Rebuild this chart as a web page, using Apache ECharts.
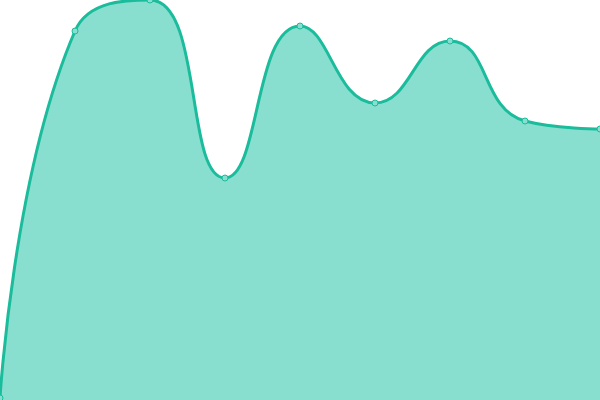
<!DOCTYPE html>
<html>
<head>
<meta charset="utf-8">
<script src="https://cdn.jsdelivr.net/npm/echarts@6/dist/echarts.min.js"></script>
<style>
    body {margin:0;padding:0;overflow:hidden;background:#fff;}
    #main {width:600px;height:400px;}
</style>
</head>
<body>
<div id="main"></div>
<script>
    // data (y scale 0..400)
    let categories = ['1', '2', '3', '4', '5', '6', '7', '8', '9'];
    let values = [2, 369, 400, 222, 374, 297, 359, 279, 271];

    let myChart = echarts.init(document.getElementById('main'));
    let option = {
        animation: false,
        grid: {left: 0, right: 0, top: 0, bottom: 0},
        xAxis: {
            type: 'category',
            boundaryGap: false,
            data: categories,
            show: false
        },
        yAxis: {
            type: 'value',
            min: 0,
            max: 400,
            show: false
        },
        series: [{
            type: 'line',
            smooth: true,
            data: values,
            symbol: 'circle',
            symbolSize: 6,
            itemStyle: {
                color: '#89dfcf',
                borderColor: '#1abc9c',
                borderWidth: 1
            },
            lineStyle: {color: '#1abc9c', width: 3},
            areaStyle: {color: '#89dfcf', opacity: 1}
        }]
    };
    myChart.setOption(option);
</script>
</body>
</html>
